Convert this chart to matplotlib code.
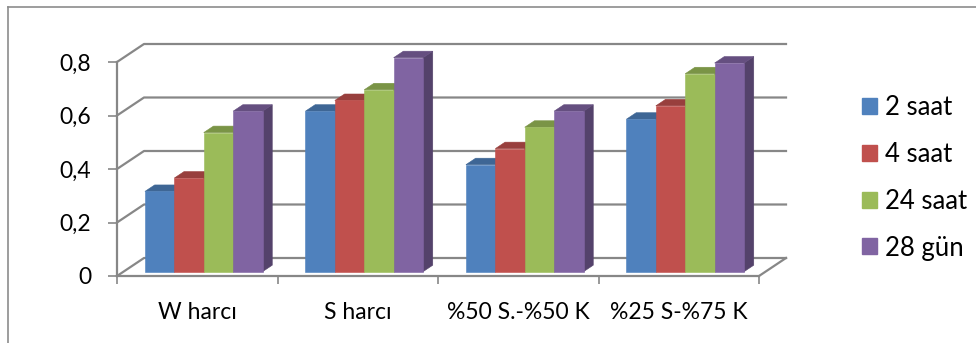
import matplotlib
matplotlib.use("Agg")
import matplotlib.pyplot as plt
from matplotlib.patches import Polygon, Patch
from matplotlib.lines import Line2D
import matplotlib.colors as mcolors

# ---- data ----
categories = ["W harcı", "S harcı", "%50 S.-%50 K", "%25 S-%75 K"]
series_names = ["2 saat", "4 saat", "24 saat", "28 gün"]
s_2saat = [0.30, 0.60, 0.40, 0.57]
s_4saat = [0.35, 0.64, 0.46, 0.62]
s_24saat = [0.52, 0.68, 0.54, 0.74]
s_28gun = [0.60, 0.80, 0.60, 0.78]
series_values = [s_2saat, s_4saat, s_24saat, s_28gun]
y_ticks = [0, 0.2, 0.4, 0.6, 0.8]
y_tick_labels = ["0", "0,2", "0,4", "0,6", "0,8"]

# ---- style ----
colors = ["#4F81BD", "#C0504D", "#9BBB59", "#8064A2"]
grid_color = "#878787"
FONT = "Lato"
FS = 16.5
FS_LEG = 18.5
plt.rcParams["font.family"] = [FONT, "DejaVu Sans"]


def shade(c, k):
    r, g, b = mcolors.to_rgb(c)
    return (r * k, g * k, b * k)


W, H, DPI = 976, 343, 100
fig = plt.figure(figsize=(W / DPI, H / DPI), dpi=DPI)
fig.patch.set_facecolor("white")

# front plane of the 3-D plot area
x0_px, x1_px, y0_px, y1_px = 117, 759, 276, 62
ax = fig.add_axes([x0_px / W, (H - y0_px) / H, (x1_px - x0_px) / W, (y0_px - y1_px) / H])
ax.set_xlim(0, len(categories))
ax.set_ylim(0, 0.8)
ax.patch.set_visible(False)

# depth of the walls (oblique projection) in data units
DX = 27 / ((x1_px - x0_px) / len(categories))
DY = 18 / ((y0_px - y1_px) / 0.8)

# back wall gridlines and side wall diagonals
for v in y_ticks:
    ax.add_line(Line2D([0, DX, len(categories) + DX], [v, v + DY, v + DY],
                       color=grid_color, lw=1.6, clip_on=False, zorder=1))
# right edge of the floor
ax.add_line(Line2D([len(categories), len(categories) + DX], [0, DY],
                   color=grid_color, lw=1.6, clip_on=False, zorder=1))

# spines = front axis lines
for side in ("top", "right"):
    ax.spines[side].set_visible(False)
for side in ("left", "bottom"):
    ax.spines[side].set_color(grid_color)
    ax.spines[side].set_linewidth(1.6)
    ax.spines[side].set_zorder(1)

ax.set_yticks(y_ticks)
ax.set_yticklabels(y_tick_labels, fontsize=FS)
ax.set_xticks(range(len(categories) + 1))
ax.set_xticklabels([""] * (len(categories) + 1))
ax.set_xticks([i + 0.5 for i in range(len(categories))], minor=True)
ax.set_xticklabels(categories, minor=True, fontsize=FS)
ax.tick_params(axis="y", which="major", length=6.5, width=1.2, color=grid_color, pad=12)
ax.tick_params(axis="x", which="major", length=6, width=1.2, color=grid_color)
ax.tick_params(axis="x", which="minor", length=0, pad=19)

# 3-D bars
nser = len(series_values)
bw = 29.4 / ((x1_px - x0_px) / len(categories))
gap = (1 - nser * bw) / 2
f1, f2 = 0.24, 0.60
for i in range(len(categories)):
    for j, vals in enumerate(series_values):
        v = vals[i]
        xl = i + gap + j * bw + f1 * DX
        xr = xl + bw
        yb = f1 * DY
        yt = v + f1 * DY
        ddx = (f2 - f1) * DX
        ddy = (f2 - f1) * DY
        c = colors[j]
        side = Polygon([(xr, yb), (xr + ddx, yb + ddy), (xr + ddx, yt + ddy), (xr, yt)],
                       closed=True, fc=shade(c, 0.66), ec=shade(c, 0.66), lw=0.4,
                       clip_on=False, zorder=3)
        top = Polygon([(xl, yt), (xr, yt), (xr + ddx, yt + ddy), (xl + ddx, yt + ddy)],
                      closed=True, fc=shade(c, 0.79), ec=shade(c, 0.79), lw=0.4,
                      clip_on=False, zorder=3)
        front = Polygon([(xl, yb), (xr, yb), (xr, yt), (xl, yt)],
                        closed=True, fc=c, ec=c, lw=0.4, clip_on=False, zorder=3)
        for p in (side, top, front):
            ax.add_patch(p)

# legend
handles = [Patch(facecolor=c, edgecolor=c) for c in colors]
fig.legend(handles, series_names, loc="upper left",
           bbox_to_anchor=(862 / W, 1 - 95 / H), frameon=False, fontsize=FS_LEG,
           handlelength=0.58, handleheight=0.58, handletextpad=0.3,
           labelspacing=0.85, borderpad=0, borderaxespad=0)

# chart frame
fig.add_artist(Line2D([8 / W, 8 / W], [0, 1 - 7 / H], transform=fig.transFigure,
                      color="#8c8c8c", lw=1.2))
fig.add_artist(Line2D([8 / W, 1], [1 - 7 / H, 1 - 7 / H], transform=fig.transFigure,
                      color="#8c8c8c", lw=1.2))

fig.savefig("out.png", dpi=DPI, facecolor="white")
